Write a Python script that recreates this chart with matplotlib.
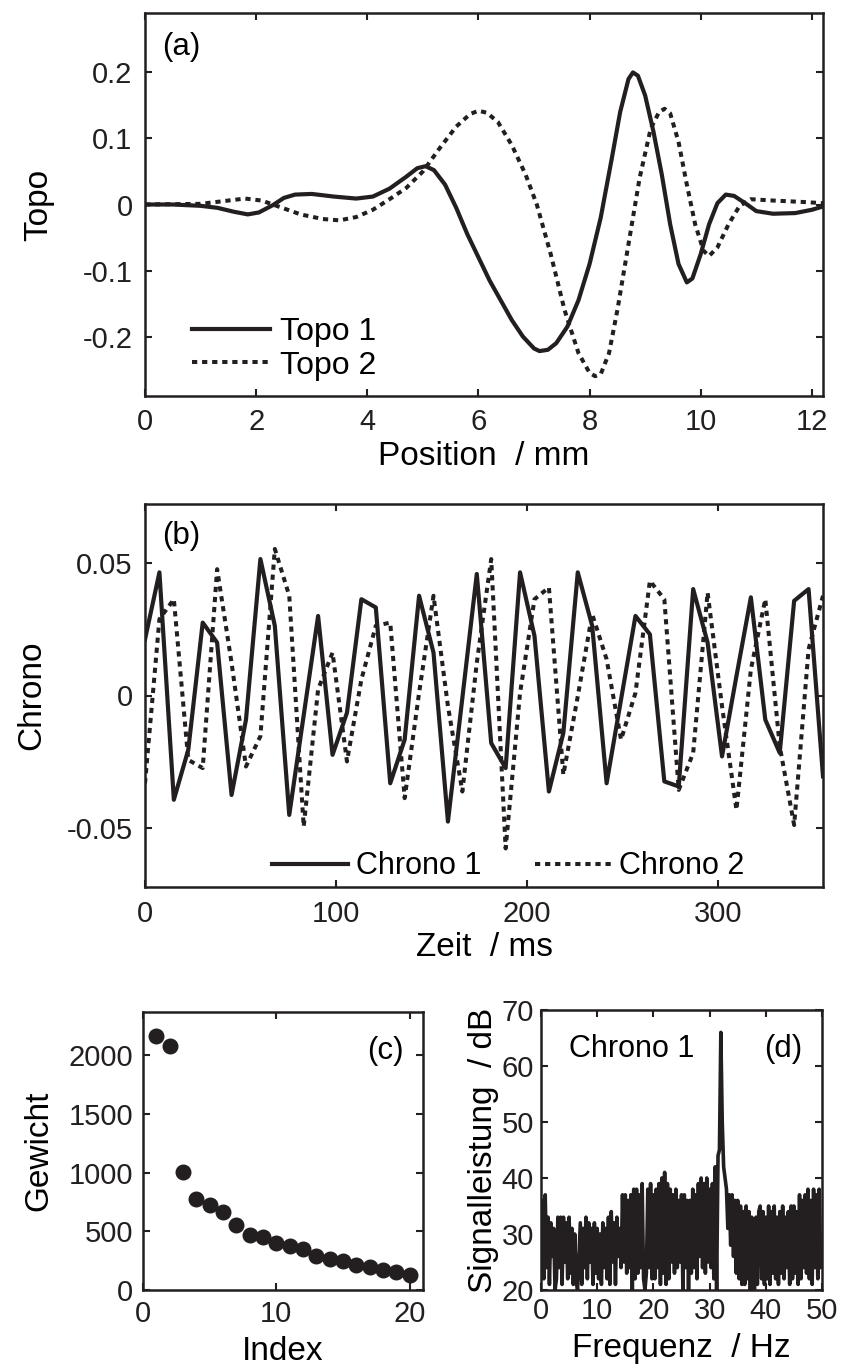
import matplotlib
matplotlib.use("Agg")
import matplotlib.pyplot as plt
import numpy as np

plt.rcParams['font.family'] = ['Liberation Sans', 'DejaVu Sans']
plt.rcParams['axes.unicode_minus'] = False
plt.rcParams['font.size'] = 21

INK = '#231f20'
TICK_FS = 21
LABEL_FS = 24
LEG_FS = 23
PANEL_FS = 22.5

# ---------------- Panel (a) data ----------------
topo1_x = [0.0, 0.5, 1.0, 1.3, 1.6, 1.85, 2.05, 2.3, 2.5, 2.7, 3.0, 3.4, 3.8, 4.1, 4.4,
           4.7, 4.9, 5.05, 5.2, 5.4, 5.6, 5.8, 6.0, 6.2, 6.4, 6.6, 6.8, 7.0, 7.1, 7.25,
           7.4, 7.6, 7.8, 8.0, 8.2, 8.4, 8.55, 8.7, 8.78, 8.87, 9.0, 9.15, 9.3, 9.45,
           9.6, 9.75, 9.85, 10.0, 10.15, 10.3, 10.45, 10.6, 10.8, 11.0, 11.3, 11.7,
           12.0, 12.2]
topo1_y = [0.0, 0.0, -0.002, -0.005, -0.011, -0.015, -0.012, -0.001, 0.010, 0.015, 0.016,
           0.012, 0.009, 0.012, 0.024, 0.042, 0.055, 0.058, 0.052, 0.030, -0.005, -0.045,
           -0.080, -0.115, -0.145, -0.175, -0.200, -0.218, -0.222, -0.220, -0.210, -0.185,
           -0.145, -0.090, -0.020, 0.070, 0.140, 0.190, 0.200, 0.195, 0.165, 0.110, 0.045,
           -0.030, -0.090, -0.118, -0.112, -0.075, -0.030, 0.002, 0.015, 0.013, 0.002,
           -0.010, -0.014, -0.013, -0.008, -0.003]
topo2_x = [0.0, 1.0, 1.5, 1.8, 2.1, 2.4, 2.8, 3.2, 3.5, 3.8, 4.1, 4.4, 4.7, 5.0, 5.3,
           5.6, 5.85, 6.0, 6.15, 6.35, 6.6, 6.85, 7.05, 7.3, 7.55, 7.8, 8.0, 8.1, 8.2,
           8.35, 8.5, 8.7, 8.9, 9.1, 9.25, 9.35, 9.45, 9.6, 9.75, 9.9, 10.05, 10.15,
           10.3, 10.5, 10.7, 10.9, 11.3, 11.8, 12.2]
topo2_y = [0.0, 0.001, 0.006, 0.009, 0.006, -0.003, -0.015, -0.022, -0.024, -0.019,
           -0.008, 0.008, 0.025, 0.050, 0.085, 0.118, 0.137, 0.142, 0.139, 0.125, 0.090,
           0.045, 0.0, -0.075, -0.160, -0.225, -0.255, -0.260, -0.257, -0.225, -0.160,
           -0.060, 0.040, 0.115, 0.140, 0.145, 0.138, 0.095, 0.030, -0.030, -0.070,
           -0.078, -0.065, -0.030, -0.002, 0.008, 0.006, 0.004, 0.002]
topo_xticks = [0, 2, 4, 6, 8, 10, 12]
topo_yticks = [-0.2, -0.1, 0, 0.1, 0.2]
topo_ylabels = ['-0.2', '-0.1', '0', '0.1', '0.2']

# ---------------- Panel (b) data ----------------
chrono_dt = 7.55  # ms per sample
chrono1 = [0.0211, 0.0463, -0.0392, -0.0204, 0.0274, 0.0199, -0.0374, -0.0091, 0.0513,
           0.0262, -0.0449, -0.0075, 0.0299, -0.0223, -0.0065, 0.0362, 0.0331, -0.0330,
           -0.0166, 0.0375, 0.0161, -0.0474, -0.0009, 0.0457, -0.0179, -0.0273, 0.0463,
           0.0224, -0.0361, -0.0141, 0.0463, 0.0262, -0.0330, -0.0015, 0.0299, 0.0230,
           -0.0323, -0.0342, 0.0400, 0.0199, -0.0229, 0.0073, 0.0369, -0.0091, -0.0216,
           0.0356, 0.0400, -0.0304]
chrono2 = [-0.0330, 0.0287, 0.0362, -0.0242, -0.0273, 0.0475, 0.0123, -0.0267, -0.0153,
           0.0551, 0.0375, -0.0493, 0.0023, 0.0161, -0.0248, 0.0060, 0.0262, 0.0274,
           -0.0386, 0.0010, 0.0375, -0.0040, -0.0361, 0.0123, 0.0513, -0.0575, 0.0010,
           0.0362, 0.0406, -0.0298, -0.0003, 0.0306, 0.0136, -0.0166, 0.0010, 0.0431,
           0.0362, -0.0355, -0.0216, 0.0387, -0.0040, -0.0430, 0.0098, 0.0362, -0.0191,
           -0.0487, 0.0174, 0.0375]
chrono_xticks = [0, 100, 200, 300]
chrono_yticks = [-0.05, 0, 0.05]
chrono_ylabels = ['-0.05', '0', '0.05']

# ---------------- Panel (c) data ----------------
index_vals = list(range(1, 21))
gewicht = [2165, 2080, 1005, 775, 725, 662, 556, 467, 455, 400, 375, 348, 293, 268,
           245, 216, 195, 173, 155, 130]

# ---------------- Panel (d) data (0.25 Hz steps, 0..50 Hz) ----------------
spec_df = 0.25
spectrum_db = [
    25, 36, 22, 37,  24, 33, 21, 32,  26, 31, 20, 22,  33, 24, 33, 21,
    33, 25, 32, 22,  33, 23, 31, 21,  30, 22, 20, 26,  32, 21, 31, 24,
    33, 22, 32, 25,  31, 21, 32, 23,  31, 22, 30, 21,  32, 24, 31, 22,
    33, 21, 34, 25,  32, 21, 33, 26,  31, 24, 37, 25,  37, 23, 36, 24,
    37, 20, 38, 22,  38, 23, 37, 24,  39, 22, 20, 23,  38, 24, 39, 22,
    37, 22, 38, 24,  39, 21, 40, 23,  41, 21, 39, 22,  38, 25, 37, 23,
    38, 24, 36, 25,  37, 20, 37, 24,  36, 20, 36, 23,  38, 24, 37, 22,
    39, 26, 40, 24,  39, 23, 40, 25,  38, 24, 39, 22,  42, 20, 44, 45,
    66, 50, 42, 40,  38, 31, 37, 28,  37, 26, 36, 23,  36, 22, 35, 21,
    34, 21, 35, 22,  34, 20, 33, 21,  20, 33, 21, 34,  35, 22, 34, 21,
    33, 22, 35, 21,  34, 23, 35, 22,  33, 21, 34, 23,  35, 22, 33, 24,
    34, 21, 35, 22,  35, 23, 34, 21,  37, 22, 36, 24,  37, 23, 38, 22,
    36, 21, 38, 24,  37, 22, 38, 24,  26]

W, H = 843, 1371
fig = plt.figure(figsize=(W / 100, H / 100), dpi=100)


def px_axes(left, right, top, bottom):
    return fig.add_axes([left / W, (H - bottom) / H, (right - left) / W, (bottom - top) / H])


def style(ax, pad=9):
    for s in ax.spines.values():
        s.set_linewidth(1.8)
        s.set_color(INK)
    ax.tick_params(direction='in', top=True, right=True, length=5, width=1.5,
                   colors=INK, labelsize=TICK_FS, pad=pad)


DOT = (0, (1.3, 1.2))

# Panel (a)
ax = px_axes(145, 823, 13, 396)
ax.plot(topo1_x, topo1_y, color=INK, lw=3.0, label='Topo 1', solid_joinstyle='round')
ax.plot(topo2_x, topo2_y, color=INK, lw=2.9, ls=DOT, label='Topo 2',
        dash_capstyle='butt')
ax.set_xlim(0, 12.2)
ax.set_ylim(-0.29, 0.29)
ax.set_xticks(topo_xticks)
ax.set_yticks(topo_yticks)
ax.set_yticklabels(topo_ylabels)
ax.set_xlabel('Position  / mm', fontsize=LABEL_FS, labelpad=3)
ax.set_ylabel('Topo', fontsize=LABEL_FS, labelpad=20)
ax.text(0.025, 0.95, '(a)', transform=ax.transAxes, ha='left', va='top', fontsize=PANEL_FS)
ax.legend(loc='lower left', frameon=False, handlelength=2.45, handletextpad=0.3,
          labelspacing=0.12, borderaxespad=0, borderpad=0,
          bbox_to_anchor=(0.069, 0.04), fontsize=LEG_FS)
style(ax)

# Panel (b)
ax = px_axes(145, 823, 504, 887)
t = np.arange(len(chrono1)) * chrono_dt
ax.plot(t, chrono1, color=INK, lw=3.0, label='Chrono 1')
ax.plot(t, chrono2, color=INK, lw=2.9, ls=DOT, label='Chrono 2',
        dash_capstyle='butt')
ax.set_xlim(0, t[-1])
ax.set_ylim(-0.072, 0.072)
ax.set_xticks(chrono_xticks)
ax.set_yticks(chrono_yticks)
ax.set_yticklabels(chrono_ylabels)
ax.set_xlabel('Zeit  / ms', fontsize=LABEL_FS, labelpad=3)
ax.set_ylabel('Chrono', fontsize=LABEL_FS, labelpad=14)
ax.text(0.025, 0.955, '(b)', transform=ax.transAxes, ha='left', va='top', fontsize=PANEL_FS)
ax.legend(loc='lower left', ncol=2, frameon=False, handlelength=2.5, handletextpad=0.25,
          columnspacing=1.75, borderaxespad=0, borderpad=0,
          bbox_to_anchor=(0.187, 0.015), fontsize=22)
style(ax)

# Panel (c)
ax = px_axes(143, 423, 1012, 1290)
ax.plot(index_vals, gewicht, 'o', color=INK, ms=10.5, mec=INK)
ax.set_xlim(0, 21)
ax.set_ylim(0, 2370)
ax.set_xticks([0, 10, 20])
ax.set_yticks([0, 500, 1000, 1500, 2000])
ax.set_xlabel('Index', fontsize=LABEL_FS, labelpad=6)
ax.set_ylabel('Gewicht', fontsize=LABEL_FS, labelpad=10)
ax.text(0.93, 0.915, '(c)', transform=ax.transAxes, ha='right', va='top', fontsize=PANEL_FS)
style(ax, pad=7)

# Panel (d)
ax = px_axes(541, 822, 1010, 1290)
f = np.arange(len(spectrum_db)) * spec_df
ax.plot(f, spectrum_db, color=INK, lw=2.6)
ax.set_xlim(0, 50)
ax.set_ylim(20, 70)
ax.set_xticks([0, 10, 20, 30, 40, 50])
ax.set_yticks([20, 30, 40, 50, 60, 70])
ax.set_xlabel('Frequenz  / Hz', fontsize=LABEL_FS, labelpad=6)
ax.set_ylabel('Signalleistung  / dB', fontsize=LABEL_FS, labelpad=2)
ax.text(0.1, 0.915, 'Chrono 1', transform=ax.transAxes, ha='left', va='top', fontsize=22)
ax.text(0.93, 0.915, '(d)', transform=ax.transAxes, ha='right', va='top', fontsize=PANEL_FS)
style(ax, pad=5)

fig.savefig('out.png', dpi=100)
